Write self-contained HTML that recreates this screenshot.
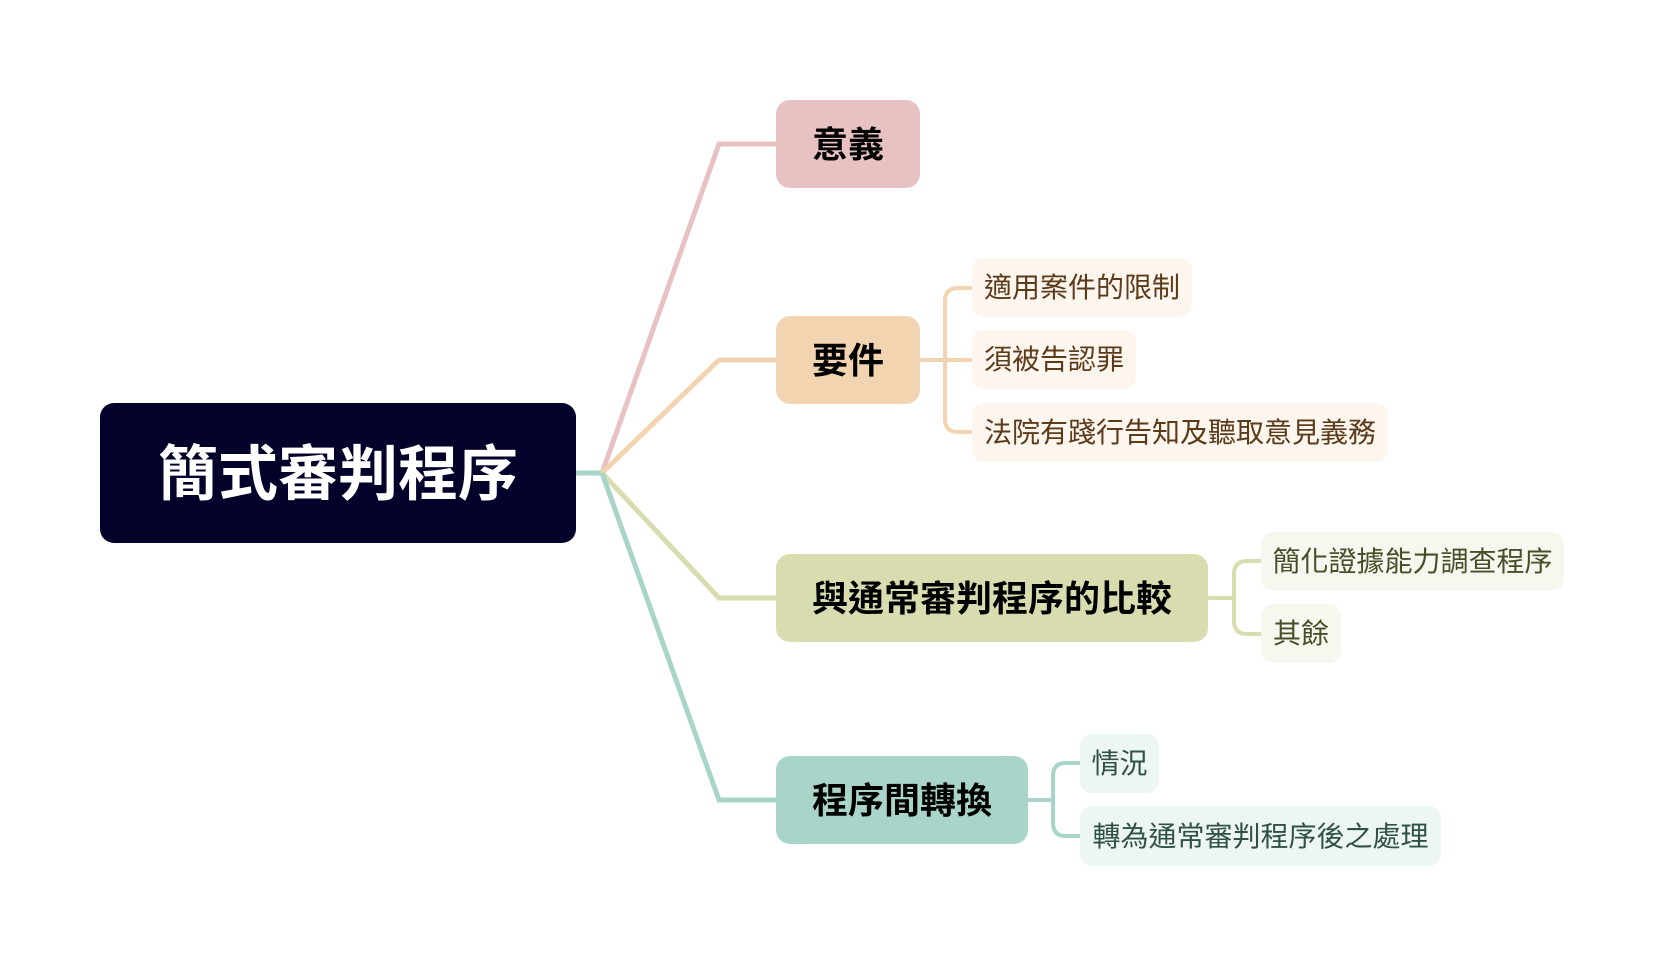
<!DOCTYPE html>
<html>
<head>
<meta charset="utf-8">
<style>
html,body{margin:0;padding:0;background:#ffffff;}
body{width:1664px;height:966px;position:relative;overflow:hidden;font-family:"Liberation Sans","Noto Sans CJK TC","Noto Sans CJK SC",sans-serif;}
svg{position:absolute;left:0;top:0;}
.n{position:absolute;display:flex;align-items:center;justify-content:center;box-sizing:border-box;white-space:nowrap;}
.root{background:#02022a;color:#ffffff;font-weight:700;font-size:60px;border-radius:14px;padding-bottom:7px;}
.main{font-weight:700;font-size:36px;color:#000000;border-radius:14px;padding-bottom:4px;}
.leaf{font-size:28px;border-radius:12px;padding-bottom:3px;}
.p1{background:#e8c2c2;}
.p2{background:#f2d4b1;}
.p3{background:#d9dcaf;}
.p4{background:#a9d4ca;}
.l2{background:#fdf6ef;color:#5c3b1a;}
.l3{background:#f6f7ee;color:#4a4e28;}
.l4{background:#edf6f3;color:#2f5148;}
</style>
</head>
<body>
<svg width="1664" height="966" viewBox="0 0 1664 966">
  <g fill="none" stroke-width="5" stroke-linejoin="miter">
    <path d="M574,473 H602" stroke="#a9d4ca"/>
    <path d="M602,473 L719,144 H778" stroke="#e8c2c2"/>
    <path d="M602,473 L719,360 H778" stroke="#f2d4b1"/>
    <path d="M602,473 L719,598 H778" stroke="#d9dcaf"/>
    <path d="M602,473 L719,800 H778" stroke="#a9d4ca"/>
  </g>
  <g fill="none" stroke-width="4">
    <path d="M918,360 H974" stroke="#f2d4b1"/>
    <path d="M974,288 H958 Q945,288 945,301 V419 Q945,432 958,432 H974" stroke="#f2d4b1"/>
    <path d="M1207,598 H1234" stroke="#d9dcaf"/>
    <path d="M1263,561 H1247 Q1234,561 1234,574 V621 Q1234,634 1247,634 H1263" stroke="#d9dcaf"/>
    <path d="M1026,800 H1053" stroke="#a9d4ca"/>
    <path d="M1082,763 H1066 Q1053,763 1053,776 V823 Q1053,836 1066,836 H1082" stroke="#a9d4ca"/>
  </g>
</svg>

<div class="n root" style="left:100px;top:403px;width:476px;height:140px;">簡式審判程序</div>

<div class="n main p1" style="left:776px;top:100px;width:144px;height:88px;">意義</div>
<div class="n main p2" style="left:776px;top:316px;width:144px;height:88px;">要件</div>
<div class="n main p3" style="left:776px;top:554px;width:432px;height:88px;">與通常審判程序的比較</div>
<div class="n main p4" style="left:776px;top:756px;width:252px;height:88px;">程序間轉換</div>

<div class="n leaf l2" style="left:972px;top:258px;width:220px;height:59px;">適用案件的限制</div>
<div class="n leaf l2" style="left:972px;top:330px;width:164px;height:59px;">須被告認罪</div>
<div class="n leaf l2" style="left:972px;top:403px;width:416px;height:59px;">法院有踐行告知及聽取意見義務</div>

<div class="n leaf l3" style="left:1261px;top:532px;width:303px;height:59px;">簡化證據能力調查程序</div>
<div class="n leaf l3" style="left:1261px;top:604px;width:80px;height:59px;">其餘</div>

<div class="n leaf l4" style="left:1080px;top:734px;width:79px;height:59px;">情況</div>
<div class="n leaf l4" style="left:1080px;top:806px;width:361px;height:60px;">轉為通常審判程序後之處理</div>
</body>
</html>
